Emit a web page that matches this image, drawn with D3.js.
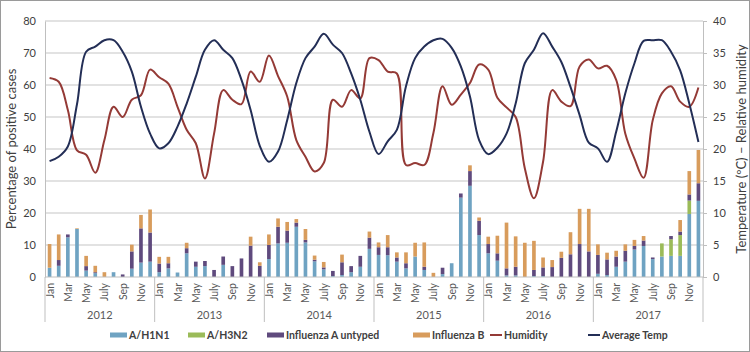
<!DOCTYPE html>
<html>
<head>
<meta charset="utf-8">
<script src="https://cdn.jsdelivr.net/npm/d3@7"></script>
<style>
  body { margin: 0; background: #fff; }
  svg { display: block; font-family: Lato, "Open Sans", sans-serif; }
</style>
</head>
<body>
<svg id="chart" width="750" height="352"></svg>
<script>
// months, 2012 - 2017
var monthNames = ['Jan', 'Feb', 'Mar', 'Apr', 'May', 'Jun', 'July', 'Aug', 'Sep', 'Oct', 'Nov', 'Dec'];
var years = ['2012', '2013', '2014', '2015', '2016', '2017'];

// percentage of positive cases, one value per month
var h1n1 = [
  2.9, 3.5, 12.4, 15.0, 2.0, 1.2, 0, 1.5, 0, 2.6, 4.5, 4.8,
  1.5, 2.7, 1.4, 7.4, 3.2, 3.4, 0, 3.8, 0, 0, 0, 0,
  5.6, 10.5, 10.7, 15.7, 10.8, 4.9, 2.4, 0.3, 0.6, 1.5, 3.2, 8.8,
  6.9, 6.8, 4.8, 2.7, 6.4, 2.2, 0, 0.9, 4.3, 24.8, 28.5, 13.1,
  7.4, 5.1, 0.5, 0.5, 0, 0.3, 0.3, 0, 0, 0, 0, 0,
  1.0, 0.6, 3.2, 4.8, 8.6, 9.7, 5.6, 6.4, 6.6, 6.6, 19.7, 23.8
];
var h3n2 = [
  0, 0, 0, 0, 0, 0, 0, 0, 0, 0, 0, 0,
  0, 0, 0, 0, 0, 0, 0, 0, 0, 0, 0, 0,
  0, 0, 0, 0, 0, 0, 0, 0, 0, 0, 0, 0,
  0, 0, 0, 0, 0, 0, 0, 0, 0, 0, 0, 0,
  0, 0, 0, 0, 0, 0, 0, 0, 0, 0, 0, 0,
  0, 0, 0, 0, 0, 0, 0, 4.1, 5.2, 6.5, 4.2, 0
];
var untyped = [
  0, 1.8, 0.9, 0, 1.4, 0.3, 0, 0, 0.8, 5.4, 10.7, 9.1,
  2.7, 1.6, 0, 1.6, 1.6, 1.6, 2.2, 2.6, 3.4, 5.8, 9.8, 3.5,
  4.4, 5.2, 3.8, 1.3, 0.8, 0.5, 0.6, 1.6, 4.0, 1.9, 3.4, 3.5,
  2.4, 2.5, 1.3, 1.6, 0, 1.0, 0, 2.0, 0, 1.3, 4.6, 4.5,
  2.9, 2.3, 2.2, 2.7, 0, 1.9, 2.7, 3.1, 6.0, 7.1, 10.3, 8.0,
  5.9, 4.9, 3.2, 3.4, 1.1, 1.7, 0.5, 0, 1.0, 1.1, 1.9, 5.5
];
var fluB = [
  7.4, 8.0, 0, 0.2, 3.2, 2.0, 1.5, 0, 0, 2.1, 4.2, 7.2,
  2.1, 2.0, 0, 1.7, 0, 0, 0, 0, 0, 0, 2.8, 1.1,
  3.3, 2.6, 2.7, 1.1, 3.4, 1.3, 1.7, 0, 2.4, 0, 0, 1.9,
  1.5, 3.8, 1.6, 3.4, 4.3, 7.6, 1.3, 0, 0, 0, 1.8, 1.0,
  2.3, 5.5, 14.3, 9.5, 10.7, 9.1, 3.1, 2.2, 1.9, 6.9, 11.0, 13.3,
  3.3, 2.1, 1.8, 2.0, 1.9, 1.4, 0, 0, 0, 3.6, 7.3, 10.4
];

// right axis values
var humidity = [
  31.1, 30.5, 26.1, 19.8, 19.1, 16.3, 21.4, 26.6, 25.0, 27.7, 28.4, 32.4,
  31.2, 30.2, 26.6, 23.0, 20.9, 15.4, 22.4, 29.2, 27.7, 27.0, 32.1, 30.5,
  34.6, 31.4, 28.2, 21.4, 18.8, 16.5, 17.8, 27.7, 26.6, 29.2, 27.9, 34.2,
  33.9, 32.1, 31.8, 17.5, 17.8, 17.5, 22.5, 29.8, 26.9, 28.5, 30.3, 33.2,
  32.4, 28.0, 26.5, 25.0, 17.0, 12.3, 18.0, 29.2, 27.4, 26.7, 32.9, 34.0,
  32.6, 33.0, 30.8, 22.4, 18.5, 15.5, 24.5, 28.7, 29.8, 27.4, 26.6, 29.6
];
var avgTemp = [
  18.1, 18.8, 20.4, 27.0, 35.2, 36.0, 37.0, 37.0, 35.2, 32.1, 26.6, 22.4,
  20.1, 20.9, 23.5, 27.1, 31.3, 35.5, 37.0, 35.5, 34.2, 30.8, 26.1, 20.5,
  18.0, 19.6, 24.5, 30.3, 34.2, 36.0, 38.0, 36.3, 35.0, 31.8, 27.7, 22.7,
  19.2, 21.2, 23.0, 29.8, 34.2, 36.0, 37.0, 37.2, 35.8, 32.9, 28.2, 21.4,
  19.2, 20.2, 22.4, 27.1, 33.4, 35.5, 38.1, 36.0, 33.6, 29.7, 25.3, 21.0,
  20.1, 18.0, 22.7, 28.7, 33.4, 36.9, 37.0, 37.0, 35.2, 32.3, 27.1, 21.1
];

var seriesKeys = ['h1n1', 'h3n2', 'untyped', 'fluB'];
var seriesNames = ['A/H1N1', 'A/H3N2', 'Influenza A untyped', 'Influenza B'];
var colors = { h1n1: '#6fa3c2', h3n2: '#9bbb59', untyped: '#5f4a7d', fluB: '#d89c5c' };
var lineColors = { humidity: '#943a36', temp: '#232e56' };

var svg = d3.select('#chart');
var plotLeft = 45, plotRight = 703, plotTop = 21, plotBottom = 277;

// outer frame
svg.append('rect').attr('x', 0.5).attr('y', 0.5).attr('width', 749).attr('height', 351)
  .attr('fill', 'none').attr('stroke', '#9a9a9a');

var nMonths = h1n1.length;
var x = d3.scaleBand().domain(d3.range(nMonths)).range([plotLeft, plotRight])
  .paddingInner(0.6).paddingOuter(0.3);
var yL = d3.scaleLinear().domain([0, 80]).range([plotBottom, plotTop]);
var yR = d3.scaleLinear().domain([0, 40]).range([plotBottom, plotTop]);

// gridlines
svg.append('g').selectAll('line').data(yL.ticks(8).filter(d => d > 0)).enter().append('line')
  .attr('x1', plotLeft).attr('x2', plotRight)
  .attr('y1', d => yL(d)).attr('y2', d => yL(d))
  .attr('stroke', '#d9d9d9').attr('stroke-width', 1.3);

// stacked bars
var rows = d3.range(nMonths).map(i => ({ i: i, h1n1: h1n1[i], h3n2: h3n2[i], untyped: untyped[i], fluB: fluB[i] }));
var stack = d3.stack().keys(seriesKeys)(rows);
svg.append('g').selectAll('g').data(stack).enter().append('g')
  .attr('fill', d => colors[d.key])
  .selectAll('rect').data(d => d).enter().append('rect')
  .attr('x', d => x(d.data.i))
  .attr('width', x.bandwidth())
  .attr('y', d => yL(d[1]))
  .attr('height', d => yL(d[0]) - yL(d[1]));

// lines
var cx = i => x(i) + x.bandwidth() / 2;
var line = d3.line().x((d, i) => cx(i)).y(d => yR(d)).curve(d3.curveCatmullRom.alpha(0.5));
svg.append('path').datum(humidity).attr('d', line)
  .attr('fill', 'none').attr('stroke', lineColors.humidity).attr('stroke-width', 2);
svg.append('path').datum(avgTemp).attr('d', line)
  .attr('fill', 'none').attr('stroke', lineColors.temp).attr('stroke-width', 2);

// axes
var axL = svg.append('g').attr('transform', `translate(${plotLeft},0)`)
  .call(d3.axisLeft(yL).ticks(8).tickSize(0).tickPadding(9));
var axR = svg.append('g').attr('transform', `translate(${plotRight},0)`)
  .call(d3.axisRight(yR).ticks(8).tickSize(4).tickPadding(6));
[axL, axR].forEach(a => {
  a.select('.domain').attr('stroke', '#bfbfbf');
  a.selectAll('line').attr('stroke', '#bfbfbf');
  a.selectAll('text').attr('font-size', 11).attr('fill', '#404040').attr('font-family', 'Lato, sans-serif');
});

// x baseline
svg.append('line').attr('x1', plotLeft).attr('x2', plotRight).attr('y1', plotBottom).attr('y2', plotBottom)
  .attr('stroke', '#bfbfbf');

// month labels, every other month
svg.append('g').selectAll('text').data(d3.range(nMonths).filter(i => i % 2 == 0)).enter().append('text')
  .attr('transform', i => `translate(${cx(i) + 4},283) rotate(-90)`)
  .attr('text-anchor', 'end')
  .attr('font-size', 10.5).attr('fill', '#595959')
  .text(i => monthNames[i % 12]);

// year separators and labels
var step = x.step();
svg.append('g').selectAll('line').data(d3.range(years.length + 1)).enter().append('line')
  .attr('x1', k => plotLeft + k * 12 * step).attr('x2', k => plotLeft + k * 12 * step)
  .attr('y1', plotBottom).attr('y2', 322)
  .attr('stroke', '#bfbfbf');
svg.append('g').selectAll('text').data(years).enter().append('text')
  .attr('x', (d, k) => plotLeft + (k + 0.5) * 12 * step)
  .attr('y', 319)
  .attr('text-anchor', 'middle')
  .attr('font-size', 11).attr('fill', '#595959')
  .text(d => d);

// axis titles
svg.append('text').attr('transform', `translate(16,${(plotTop + plotBottom) / 2}) rotate(-90)`)
  .attr('text-anchor', 'middle').attr('font-size', 13).attr('fill', '#404040')
  .text('Percentage of positive cases');
svg.append('text').attr('transform', `translate(746,${(plotTop + plotBottom) / 2}) rotate(-90)`)
  .attr('text-anchor', 'middle').attr('font-size', 13).attr('fill', '#404040')
  .text('Temperature (ºC) – Relative humidity');

// legend
var legendItems = [
  { name: seriesNames[0], color: colors.h1n1, type: 'bar', x: 110 },
  { name: seriesNames[1], color: colors.h3n2, type: 'bar', x: 188 },
  { name: seriesNames[2], color: colors.untyped, type: 'bar', x: 267 },
  { name: seriesNames[3], color: colors.fluB, type: 'bar', x: 413 },
  { name: 'Humidity', color: lineColors.humidity, type: 'line', x: 490 },
  { name: 'Average Temp', color: lineColors.temp, type: 'line', x: 588 }
];
var lg = svg.append('g').selectAll('g').data(legendItems).enter().append('g')
  .attr('transform', d => `translate(${d.x},335)`);
lg.append('rect')
  .attr('x', 0).attr('width', d => d.type == 'bar' ? 17 : 12)
  .attr('y', d => d.type == 'bar' ? -2.5 : -1).attr('height', d => d.type == 'bar' ? 5 : 2)
  .attr('fill', d => d.color);
lg.append('text')
  .attr('x', d => d.type == 'bar' ? 19 : 14).attr('dy', '0.35em')
  .attr('font-size', 10.5).attr('font-weight', 'bold').attr('fill', '#404040')
  .text(d => d.name);
</script>
</body>
</html>
